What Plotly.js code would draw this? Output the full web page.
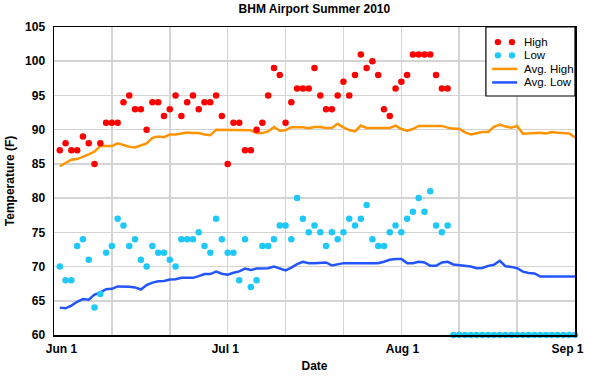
<!DOCTYPE html>
<html>
<head>
<meta charset="utf-8">
<script src="https://cdn.plot.ly/plotly-3.0.1.min.js"></script>
<style>html,body{margin:0;padding:0;background:#fff;} #chart{width:600px;height:379px;}</style>
</head>
<body>
<div id="chart"></div>
<script>
// Day index (1 = Jun 1)
const days = [1,2,3,4,5,6,7,8,9,10,11,12,13,14,15,16,17,18,19,20,21,22,23,24,25,26,27,28,29,30,
31,32,33,34,35,36,37,38,39,40,41,42,43,44,45,46,47,48,49,50,51,52,53,54,55,56,57,58,59,60,
61,62,63,64,65,66,67,68,69,70,71,72,73,74,75,76,77,78,79,80,81,82,83,84,85,86,87,88,89,90];

const high = [87,88,87,87,89,88,85,88,91,91,
91,94,95,93,93,90,94,94,92,93,
95,92,94,95,93,94,94,95,92,85,
91,91,87,87,90,91,95,99,98,91,
94,96,96,96,99,95,93,93,95,97,
95,98,101,99,100,98,93,92,96,97,
98,101,101,101,101,98,96,96];

const low = [70,68,68,73,74,71,64,66,72,73,
77,76,73,74,71,70,73,72,72,71,
70,74,74,74,75,73,72,77,74,72,
72,68,74,67,68,73,73,74,76,76,
74,80,77,75,76,75,73,75,74,75,
77,76,77,79,74,73,73,75,76,75,
77,78,80,78,81,76,75,76,60,60,
60,60,60,60,60,60,60,60,60,60,
60,60,60,60,60,60,60,60,60,60];

const avgHigh = [84.65,85.15,85.6,85.7,86.0,86.4,86.8,87.6,87.6,87.6,
88.0,87.7,87.5,87.4,87.7,88.0,88.8,89.0,88.9,89.3,
89.3,89.5,89.6,89.5,89.5,89.3,89.2,90.0,90.0,90.0,
89.95,89.9,89.9,89.9,89.5,89.5,89.75,90.4,89.85,89.9,
90.35,90.35,90.35,90.2,90.4,90.4,90.25,90.25,90.85,90.35,
89.95,89.75,90.6,90.25,90.25,90.35,90.25,90.25,90.6,90.1,
89.85,90.1,90.55,90.55,90.55,90.55,90.55,90.3,90.15,90.15,
89.6,89.3,89.5,89.65,89.65,90.4,90.75,90.45,90.3,90.55,
89.4,89.45,89.55,89.55,89.45,89.65,89.55,89.55,89.45,88.85];

const avgLow = [64.0,63.9,64.3,64.85,65.25,65.15,65.9,66.2,66.7,66.75,
67.1,67.1,67.05,66.95,66.65,67.3,67.65,67.85,67.9,68.1,
68.15,68.35,68.35,68.35,68.6,68.9,68.9,69.25,68.95,68.8,
69.1,69.3,69.7,69.5,69.7,69.75,69.75,70.0,69.75,69.45,
69.85,70.35,70.7,70.5,70.5,70.5,70.6,70.15,70.35,70.5,
70.5,70.5,70.55,70.5,70.5,70.5,70.7,71.0,71.1,71.1,
70.5,70.5,70.7,70.6,70.1,70.1,70.6,70.7,70.3,70.2,
70.0,70.0,69.75,69.8,70.1,70.25,70.85,70.05,69.95,69.75,
69.25,69.05,69.0,68.55,68.55,68.55,68.55,68.55,68.55,68.55];

const tickLabels = ['Jun 1','Jul 1','Aug 1','Sep 1'];
const seriesNames = ['High','Low','Avg. High','Avg. Low'];
const seriesColors = ['#ff0000','#1ec8f8','#ff9400','#2255ff'];

const tickDays = [1.3, 29.6, 60.2, 88.7];
const FONT = 'Liberation Sans, Arial, sans-serif';

const traces = [
  {x: days.slice(0, high.length), y: high, name: seriesNames[0], type: 'scatter', mode: 'markers',
   xaxis: 'x2', marker: {color: seriesColors[0], size: 6.5}, cliponaxis: false},
  {x: days.slice(0, low.length), y: low, name: seriesNames[1], type: 'scatter', mode: 'markers',
   xaxis: 'x2', marker: {color: seriesColors[1], size: 6.5}, cliponaxis: false},
  {x: days, y: avgHigh, name: seriesNames[2], type: 'scatter', mode: 'lines',
   line: {color: seriesColors[2], width: 2.5}},
  {x: days, y: avgLow, name: seriesNames[3], type: 'scatter', mode: 'lines',
   line: {color: seriesColors[3], width: 2.5}}
];

// Manual legend (paper coordinates of plot area)
const shapes = [
  {type: 'rect', xref: 'paper', yref: 'paper', x0: 0.829, x1: 1, y0: 0.776, y1: 1,
   line: {color: '#000', width: 1.2}, fillcolor: '#ffffff', layer: 'above'}
];
const annotations = [];
const rowY = [0.951, 0.908, 0.864, 0.820];
for (let i = 0; i < 4; i++) {
  if (i < 2) {
    [0.852, 0.879].forEach(function (xp) {
      shapes.push({type: 'circle', xref: 'paper', yref: 'paper', xsizemode: 'pixel', ysizemode: 'pixel',
        xanchor: xp, yanchor: rowY[i], x0: -3.2, x1: 3.2, y0: -3.2, y1: 3.2,
        fillcolor: seriesColors[i], line: {width: 0}, layer: 'above'});
    });
  } else {
    shapes.push({type: 'line', xref: 'paper', yref: 'paper', x0: 0.841, x1: 0.889, y0: rowY[i], y1: rowY[i],
      line: {color: seriesColors[i], width: 2.5}, layer: 'above'});
  }
  annotations.push({xref: 'paper', yref: 'paper', x: 0.899, y: rowY[i], xanchor: 'left', yanchor: 'middle',
    text: seriesNames[i], showarrow: false, font: {family: FONT, size: 11.5, color: '#000'}});
}

const layout = {
  width: 600, height: 379,
  margin: {l: 54, r: 25, t: 27, b: 44},
  paper_bgcolor: '#ffffff', plot_bgcolor: '#ffffff',
  font: {family: FONT, size: 12, color: '#000'},
  showlegend: false,
  title: {text: 'BHM Airport Summer 2010', font: {family: FONT, size: 12, weight: 'bold', color: '#000'},
          x: 0.524, xanchor: 'center', y: 0.978, yanchor: 'middle'},
  xaxis: {range: [0, 90], tickmode: 'linear', tick0: 0, dtick: 10, showgrid: true, gridcolor: '#d4d4d4', gridwidth: 1.5,
          showticklabels: false, ticks: '', zeroline: false,
          showline: true, linecolor: '#000', linewidth: 1.5, mirror: true},
  xaxis2: {overlaying: 'x', range: [0, 90], side: 'bottom', anchor: 'y',
           tickmode: 'array', tickvals: tickDays, ticktext: tickLabels,
           showgrid: false, zeroline: false, ticks: '', ticklabelstandoff: 5, showline: false,
           tickfont: {family: FONT, size: 12, weight: 'bold', color: '#000'},
           title: {text: 'Date', font: {family: FONT, size: 12, weight: 'bold', color: '#000'}, standoff: 6}},
  yaxis: {range: [60, 105], tick0: 60, dtick: 5, showgrid: true, gridcolor: '#d4d4d4', gridwidth: 1.5,
          zeroline: false, ticks: '', ticklabelstandoff: 5,
          tickfont: {family: FONT, size: 12, weight: 'bold', color: '#000'},
          showline: true, linecolor: '#000', linewidth: 1.5, mirror: true,
          title: {text: 'Temperature (F)', font: {family: FONT, size: 12, weight: 'bold', color: '#000'}, standoff: 8}},
  shapes: shapes,
  annotations: annotations
};

Plotly.newPlot('chart', traces, layout, {displayModeBar: false, staticPlot: true});
</script>
</body>
</html>
